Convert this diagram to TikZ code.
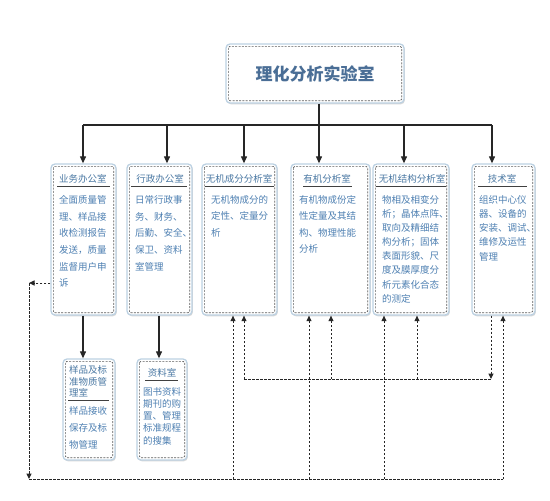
\documentclass[tikz,border=0pt]{standalone}
\usepackage{fontspec}
\setmainfont{Noto Sans CJK SC}
\usetikzlibrary{arrows.meta,calc,shadows}
\definecolor{boxedge}{HTML}{BCD1E2}
\definecolor{titleblue}{HTML}{4A78A3}
\definecolor{bodyblue}{HTML}{4E80B2}
\definecolor{headblue}{HTML}{4A6E96}
\definecolor{dashgray}{HTML}{5E5E5E}
\begin{document}
\begin{tikzpicture}[x=1pt,y=-1pt,
  unit/.style={draw=boxedge, line width=1.3pt, fill=white, rounded corners=4pt, inner sep=0pt,
    drop shadow={shadow xshift=0.9pt, shadow yshift=-1.3pt, opacity=0.3, fill=gray}},
  innerdash/.style={draw=dashgray, line width=0.7pt, dash pattern=on 2pt off 1.3pt, rounded corners=1.5pt},
  ttl/.style={text=titleblue, font=\fontsize{9.5}{11.5}\selectfont, inner sep=0pt},
  body/.style={text=bodyblue, align=left, inner sep=0pt, anchor=north west},
  uline/.style={draw=black!75, line width=1pt},
  trunk/.style={draw=black!85, line width=1.1pt},
  solidarrow/.style={draw=black!85, line width=1.1pt, -{Triangle[length=7pt,width=6pt]}},
  dline/.style={draw=black!85, line width=1pt, dash pattern=on 2.5pt off 1.5pt},
  dasharrow/.style={dline, -{Triangle[length=5.5pt,width=5pt]}}
]
\useasboundingbox[fill=white] (0,0) rectangle (550,501);

% ---------- boxes ----------
\node[unit, minimum width=178pt, minimum height=59pt] (top) at (315,73.5) {};
\node[unit, minimum width=65pt, minimum height=151pt] (b1) at (83.5,239.5) {};
\node[unit, minimum width=65pt, minimum height=151pt] (b2) at (159.5,239.5) {};
\node[unit, minimum width=75pt, minimum height=151pt] (b3) at (239.5,239.5) {};
\node[unit, minimum width=79pt, minimum height=151pt] (b4) at (330.5,239.5) {};
\node[unit, minimum width=76pt, minimum height=151pt] (b5) at (411,239.5) {};
\node[unit, minimum width=63pt, minimum height=151pt] (b6) at (503.5,239.5) {};
\node[unit, minimum width=52pt, minimum height=101pt] (b7) at (89,409.5) {};
\node[unit, minimum width=50pt, minimum height=101pt] (b8) at (162,409.5) {};

\foreach \b in {top,b1,b2,b3,b4,b5,b6,b7,b8}
  \draw[innerdash] ($(\b.north west)+(3,3)$) rectangle ($(\b.south east)+(-3,-3)$);

% ---------- texts ----------
\node[text=headblue, font=\fontsize{17}{17}\selectfont\bfseries, inner sep=0pt] (toptext) at (top) {理化分析实验室};

\node[ttl] (t1) at (83,179) {业务办公室};
\draw[uline] (57,186) -- (110,186);
\node[body, font=\fontsize{9.5}{16.7}\selectfont] (x1) at (59,195.2)
  {全面质量管\\理、样品接\\收检测报告\\发送，质量\\监督用户申\\诉};

\node[ttl] (t2) at (160,179) {行政办公室};
\draw[uline] (131,186) -- (187,186);
\node[body, font=\fontsize{9.5}{16.7}\selectfont] (x2) at (135,195.2)
  {日常行政事\\务、财务、\\后勤、安全、\\保卫、资料\\室管理};

\node[ttl] (t3) at (239,179) {无机成分分析室};
\draw[uline] (205,186) -- (274,186);
\node[body, font=\fontsize{9.5}{16.3}\selectfont] (x3) at (211,195.2)
  {无机物成分的\\定性、定量分\\析};

\node[ttl] (t4) at (327,179) {有机分析室};
\draw[uline] (303,186) -- (352,186);
\node[body, font=\fontsize{9.5}{16.5}\selectfont] (x4) at (299,195.2)
  {有机物成份定\\性定量及其结\\构、物理性能\\分析};

\node[ttl] (t5) at (412,179) {无机结构分析室};
\draw[uline] (376,186) -- (446,186);
\node[body, font=\fontsize{9.5}{14.1}\selectfont] (x5) at (382,195.2)
  {物相及相变分\\析；晶体点阵、\\取向及精细结\\构分析；固体\\表面形貌、尺\\度及膜厚度分\\析元素化合态\\的测定};

\node[ttl] (t6) at (502,179) {技术室};
\draw[uline] (478,186) -- (527,186);
\node[body, font=\fontsize{9.5}{14.2}\selectfont] (x6) at (479,195.2)
  {组织中心仪\\器、设备的\\安装、调试、\\维修及运性\\管理};

\node[body, text=titleblue, font=\fontsize{9.5}{11.6}\selectfont] (t7) at (69,365.2)
  {样品及标\\准物质管\\理室};
\draw[uline] (68,400) -- (109,400);
\node[body, font=\fontsize{9.5}{17}\selectfont] (x7) at (69,405.9)
  {样品接收\\保存及标\\物管理};

\node[ttl] (t8) at (162,373) {资料室};
\draw[uline] (145,380) -- (178,380);
\node[body, font=\fontsize{9.5}{12.3}\selectfont] (x8) at (143,386.9)
  {图书资料\\期刊的购\\置、管理\\标准规程\\的搜集};

% ---------- solid connectors ----------
\coordinate (bus) at (319,125);
\coordinate (c1) at (83,125);
\coordinate (c2) at (167,125);
\coordinate (c3) at (244,125);
\coordinate (c4) at (319,125);
\coordinate (c5) at (404,125);
\coordinate (c6) at (492,125);
\draw[trunk] (top.south -| bus) -- (bus);
\draw[trunk] (c1) -- (c6);
\draw[solidarrow] (c1) -- (c1 |- b1.north);
\draw[solidarrow] (c2) -- (c2 |- b2.north);
\draw[solidarrow] (c3) -- (c3 |- b3.north);
\draw[solidarrow] (c4) -- (c4 |- b4.north);
\draw[solidarrow] (c5) -- (c5 |- b5.north);
\draw[solidarrow] (c6) -- (c6 |- b6.north);

\coordinate (d1) at (83,330);
\coordinate (d2) at (159,330);
\draw[solidarrow] (b1.south -| d1) -- (d1 |- b7.north);
\draw[solidarrow] (b2.south -| d2) -- (d2 |- b8.north);

% ---------- dashed connectors ----------
\coordinate (L1) at (29,283);
\coordinate (L2) at (29,479);
\coordinate (R2) at (503,479);
\draw[dasharrow] (b1.west |- L1) -- (L1);
\draw[dasharrow] (L1) -- (L2);
\draw[dline] (L2) -- (R2);

\coordinate (v1) at (233,479);
\coordinate (v2) at (309,479);
\coordinate (v3) at (384,479);
\draw[dasharrow] (v1) -- (v1 |- b3.south);
\draw[dasharrow] (v2) -- (v2 |- b4.south);
\draw[dasharrow] (v3) -- (v3 |- b5.south);
\draw[dasharrow] (R2) -- (R2 |- b6.south);

\coordinate (m1) at (244,379);
\coordinate (m2) at (331,379);
\coordinate (m3) at (417,379);
\coordinate (m4) at (491,379);
\draw[dline] (m1) -- (m4);
\draw[dasharrow] (b6.south -| m4) -- (m4);
\draw[dasharrow] (m1) -- (m1 |- b3.south);
\draw[dasharrow] (m2) -- (m2 |- b4.south);
\draw[dasharrow] (m3) -- (m3 |- b5.south);
\end{tikzpicture}
\end{document}
